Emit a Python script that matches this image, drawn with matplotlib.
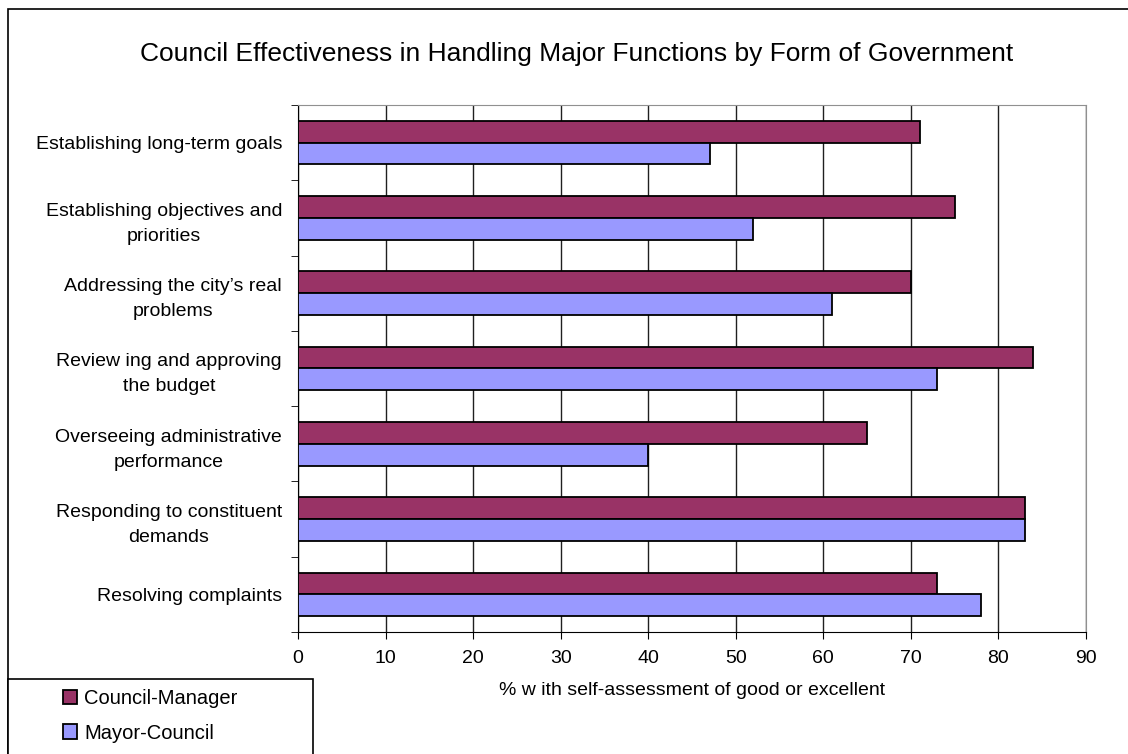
import matplotlib.pyplot as plt
import numpy as np
from matplotlib.patches import Rectangle, Patch

plt.rcParams["font.family"] = ["Liberation Sans", "DejaVu Sans"]

categories = [
    "Establishing long-term goals",
    "Establishing objectives and\npriorities",
    "Addressing the city\u2019s real\nproblems",
    "Review ing and approving\nthe budget",
    "Overseeing administrative\nperformance",
    "Responding to constituent\ndemands",
    "Resolving complaints",
]
council_manager = [71, 75, 70, 84, 65, 83, 73]
mayor_council = [47, 52, 61, 73, 40, 83, 78]
x_ticks = [0, 10, 20, 30, 40, 50, 60, 70, 80, 90]

cm_color = "#993366"
mc_color = "#9999ff"

W, H = 1128, 754
fig = plt.figure(figsize=(W / 100, H / 100), dpi=100)
ax = fig.add_axes([298 / W, 1 - 632 / H, 788 / W, 527 / H])

n = len(categories)
y = np.arange(n)[::-1].astype(float)
h = 0.29
ax.barh(y + h / 2, council_manager, height=h, color=cm_color, edgecolor="black", linewidth=1.3, zorder=3)
ax.barh(y - h / 2, mayor_council, height=h, color=mc_color, edgecolor="black", linewidth=1.3, zorder=3)

ax.set_xlim(0, 90)
ax.set_ylim(-0.5, n - 0.5)
ax.set_xticks(x_ticks)
ax.tick_params(axis="x", labelsize=14, length=5, direction="out", pad=8)
ax.set_yticks(y)
ax.set_yticklabels(categories, fontsize=14, multialignment="center", linespacing=1.6)
ax.tick_params(axis="y", length=0, pad=11.5)
ax.set_yticks(np.arange(n + 1) - 0.5, minor=True)
ax.tick_params(axis="y", which="minor", length=5, direction="out")
ax.xaxis.grid(True, color="#202020", linewidth=1.0, zorder=0)
ax.set_axisbelow(True)
ax.spines["top"].set_color("#909090")
ax.spines["right"].set_color("#909090")
ax.spines["left"].set_color("black")
ax.spines["bottom"].set_color("black")
ax.set_xlabel("% w ith self-assessment of good or excellent", fontsize=14, labelpad=11)

fig.text(577 / W, 1 - 54 / H, "Council Effectiveness in Handling Major Functions by Form of Government",
         ha="center", va="center", fontsize=19)

# outer chart frame and legend box
fig.patches.append(Rectangle((8 / W, -0.05), 1.2, 1 - 9 / H + 0.05, transform=fig.transFigure,
                             fill=False, edgecolor="black", linewidth=1.2, zorder=0))
fig.patches.append(Rectangle((8 / W, -0.05), 305 / W, 1 - 679 / H + 0.05, transform=fig.transFigure,
                             facecolor="white", edgecolor="black", linewidth=1.2, zorder=1))

handles = [Patch(facecolor=cm_color, edgecolor="black", linewidth=1.3),
           Patch(facecolor=mc_color, edgecolor="black", linewidth=1.3)]
leg = fig.legend(handles, ["Council-Manager", "Mayor-Council"], loc="center",
                 bbox_to_anchor=(150 / W, 1 - 716 / H), frameon=False,
                 fontsize=14.5, handlelength=0.7, handleheight=0.7,
                 handletextpad=0.35, borderaxespad=0, labelspacing=0.75, borderpad=0)
leg.set_zorder(5)
for t in leg.get_texts():
    t.set_ha("left")

fig.savefig("out.png", dpi=100)
